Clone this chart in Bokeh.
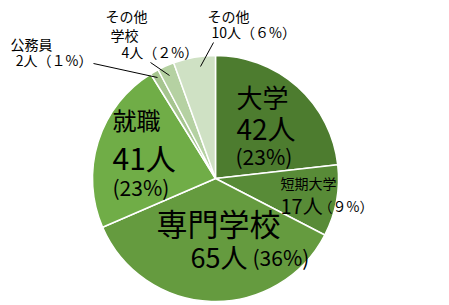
import math
from bokeh.plotting import figure
from bokeh.models import ColumnDataSource
from bokeh.core.properties import value
from bokeh.embed import file_html
from bokeh.resources import INLINE

# ---- data ----
categories = ["大学", "短期大学", "専門学校", "就職", "公務員", "その他学校", "その他"]
counts = [42, 17, 65, 41, 2, 4, 10]
percents = [23, 9, 36, 23, 1, 2, 6]
colors = ["#4d7c2f", "#588b37", "#659b3f", "#70ad47", "#a6c58f", "#b5d1a2", "#cfe1c4"]

W, H = 449, 305
FONT = value("Noto Sans CJK JP")

p = figure(width=W, height=H, x_range=(0, W), y_range=(0, H),
           output_backend="svg", toolbar_location=None, min_border=0,
           outline_line_color=None, background_fill_color="white")
p.axis.visible = False
p.grid.visible = False

cx, cy, R = 215, 305 - 178, 123
total = sum(counts)
starts, ends, mids = [], [], []
a = math.pi / 2
for c in counts:
    sweep = 2 * math.pi * c / total
    starts.append(a - sweep)
    ends.append(a)
    mids.append(a - sweep / 2)
    a -= sweep

src = ColumnDataSource(dict(start=starts, end=ends, color=colors))
p.wedge(x=cx, y=cy, radius=R, start_angle="start", end_angle="end",
        fill_color="color", line_color="white", line_width=1.5, source=src)

def txt(x, y, s, size, align="left"):
    p.text(x=[x], y=[H - y], text=[s], text_font=FONT, text_font_size=f"{size}px",
           text_align=align, text_baseline="middle", text_color="black")

def line(x0, y0, x1, y1):
    p.line(x=[x0, x1], y=[H - y0, H - y1], line_color="black", line_width=1)

fw = lambda s: s.translate(str.maketrans("0123456789", "０１２３４５６７８９"))

# 大学
txt(236, 96, categories[0], 26)
txt(236, 127, f"{counts[0]}人", 28)
txt(235, 155, f"({percents[0]}%)", 21)
# 短期大学
txt(280, 182, categories[1], 14)
txt(280, 205, f"{counts[1]}人", 20)
txt(318, 205, f"（{fw(str(percents[1]))}%）", 14)
# 専門学校
txt(218, 222, categories[2], 31, "center")
txt(190, 256, f"{counts[2]}人", 27)
txt(252, 256, f"({percents[2]}%)", 21)
# 就職
txt(112, 119, categories[3], 24)
txt(112, 156, f"{counts[3]}人", 30)
txt(112, 186, f"({percents[3]}%)", 21)
# 公務員
txt(10, 43, categories[4], 14)
txt(92, 59, f"{counts[4]}人（{fw(str(percents[4]))}%）", 14, "right")
line(93, 63, 157, 77)
# その他学校
txt(105, 15, "その他", 14)
txt(110, 34, "学校", 14)
txt(121, 51, f"{counts[5]}人（{fw(str(percents[5]))}%）", 14)
line(150, 62, 169, 75)
# その他
txt(207, 15, categories[6], 14)
txt(211, 31, f"{counts[6]}人（{fw(str(percents[6]))}%）", 14)
line(213, 42, 200, 66)

open("out.html", "w").write(file_html(p, INLINE))
